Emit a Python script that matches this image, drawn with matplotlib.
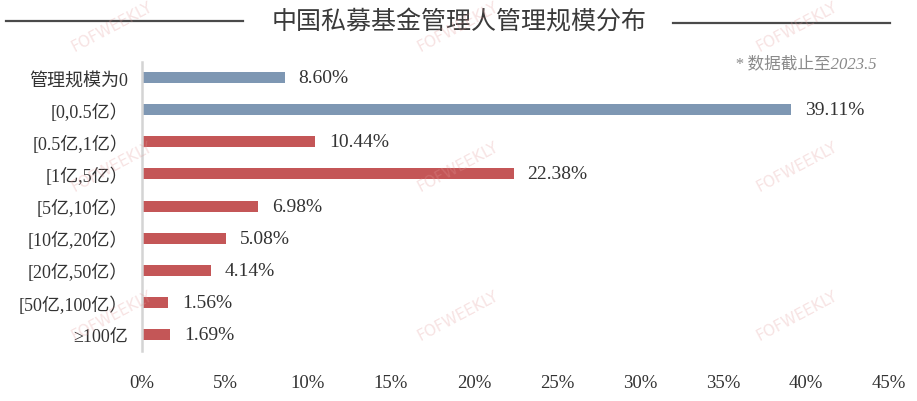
import matplotlib
matplotlib.use("Agg")
import matplotlib.pyplot as plt
from matplotlib.lines import Line2D
from matplotlib.ticker import FuncFormatter

categories = ["管理规模为0", "[0,0.5亿）", "[0.5亿,1亿）", "[1亿,5亿）", "[5亿,10亿）",
              "[10亿,20亿）", "[20亿,50亿）", "[50亿,100亿）", "≥100亿"]
values = [8.60, 39.11, 10.44, 22.38, 6.98, 5.08, 4.14, 1.56, 1.69]
bar_colors = ["#7E97B3", "#7E97B3", "#C45657", "#C45657", "#C45657",
              "#C45657", "#C45657", "#C45657", "#C45657"]
x_ticks = [0, 5, 10, 15, 20, 25, 30, 35, 40, 45]
title = "中国私募基金管理人管理规模分布"
note = "* 数据截止至2023.5"
watermark = "FOFWEEKLY"

W, H = 917, 402
fig = plt.figure(figsize=(W / 100, H / 100), dpi=100)
fig.patch.set_facecolor("white")

serif_mix = ["Liberation Serif", "Noto Sans CJK SC", "DejaVu Sans"]
cjk = ["Noto Sans CJK SC", "DejaVu Sans"]

ax = fig.add_axes([142 / W, 1 - 351.5 / H, (889 - 142) / W, (351.5 - 62.6) / H])
ypos = list(range(len(categories)))
ax.barh(ypos, values, height=0.34, color=bar_colors, zorder=2)
ax.set_ylim(len(categories) - 0.5, -0.5)
ax.set_xlim(0, 45)
ax.set_xticks(x_ticks)
ax.xaxis.set_major_formatter(FuncFormatter(lambda v, p: f"{v:.0f}%"))
ax.set_yticks(ypos)
ax.set_yticklabels(categories)
for lab in ax.get_yticklabels():
    lab.set_fontfamily(serif_mix)
    lab.set_fontsize(13)
    lab.set_color("#333333")
for lab in ax.get_xticklabels():
    lab.set_fontfamily(serif_mix)
    lab.set_fontsize(13.5)
    lab.set_color("#333333")
ax.tick_params(axis="both", length=0)
ax.tick_params(axis="y", pad=10)
ax.tick_params(axis="x", pad=17)
for s in ["top", "right", "bottom"]:
    ax.spines[s].set_visible(False)
ax.spines["left"].set_color("#D4D4D4")
ax.spines["left"].set_linewidth(1.8)
ax.set_facecolor("none")

for y, v in zip(ypos, values):
    ax.annotate(f"{v:.2f}%", xy=(v, y), xytext=(10, 0), textcoords="offset points",
                va="center", ha="left", fontsize=14, family=serif_mix, color="#333333")

# title and decorative lines
fig.text(459 / W, 1 - 22 / H, title, ha="center", va="center", fontsize=18,
         family=cjk, color="#3A3A3A")
fig.add_artist(Line2D([6 / W, 243 / W], [1 - 21.7 / H, 1 - 21.7 / H],
                      color="#4A4A4A", lw=1.6, transform=fig.transFigure))
fig.add_artist(Line2D([673 / W, 890 / W], [1 - 24 / H, 1 - 24 / H],
                      color="#4A4A4A", lw=1.6, transform=fig.transFigure))

fig.text(877 / W, 1 - 64 / H, note, ha="right", va="center", fontsize=12,
         family=serif_mix, style="italic", color="#8A8A8A")

# watermarks
for wx in [112, 458, 797]:
    for wy in [27, 167, 316]:
        fig.text(wx / W, 1 - wy / H, watermark, ha="center", va="center",
                 rotation=28, fontsize=11, family="DejaVu Sans",
                 color="#E39A9A", alpha=0.28, zorder=10)

fig.savefig("out.png", dpi=100, facecolor="white")
